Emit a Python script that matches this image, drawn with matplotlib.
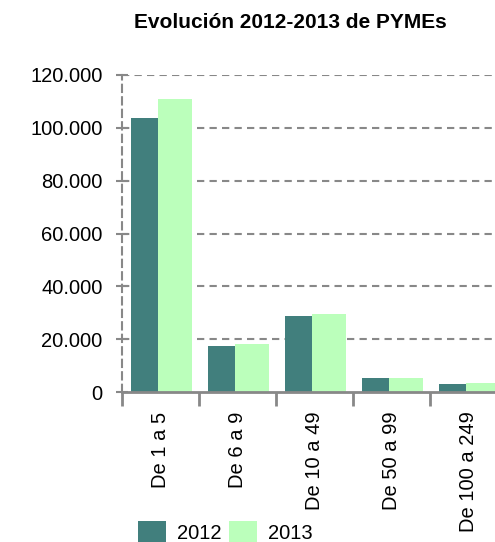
import matplotlib
matplotlib.use("Agg")
import matplotlib.pyplot as plt
import numpy as np

plt.rcParams["font.family"] = ["Liberation Sans", "DejaVu Sans"]

categories = ["De 1 a 5", "De 6 a 9", "De 10 a 49", "De 50 a 99", "De 100 a 249"]
years = ["2012", "2013"]
values_2012 = [103600, 17400, 28800, 5300, 3000]
values_2013 = [111100, 18200, 29500, 5300, 3400]

C2012 = "#417f7d"
C2013 = "#bbffbb"
GRID = "#888888"

W, H = 495, 542
fig = plt.figure(figsize=(W / 100, H / 100), dpi=100)
ax = fig.add_axes([122 / W, 150 / H, 385 / W, 317 / H])

x = np.arange(len(categories))
ax.bar(x - 0.383, values_2012, width=0.357, align="edge", color=C2012, label=years[0], zorder=3)
ax.bar(x - 0.026, values_2013, width=0.429, align="edge", color=C2013, label=years[1], zorder=3)

ax.set_xlim(-0.5, len(categories) - 0.5)
ax.set_ylim(0, 120000)

# dashed horizontal grid, dashed y axis, solid x axis
ax.set_yticks(np.arange(0, 120001, 20000))
ax.set_yticklabels([f"{v:,}".replace(",", ".") for v in range(0, 120001, 20000)])
for v in range(20000, 120001, 20000):
    ax.axhline(v, color=GRID, lw=1.5, ls=(0, (3.5, 2.5)), zorder=1)
for s in ["top", "right"]:
    ax.spines[s].set_visible(False)
ax.spines["left"].set_color(GRID)
ax.spines["left"].set_linewidth(1.5)
ax.spines["left"].set_linestyle((0, (3.5, 2.5)))
ax.spines["bottom"].set_color(GRID)
ax.spines["bottom"].set_linewidth(2)
ax.spines["bottom"].set_zorder(4)

ax.tick_params(axis="y", direction="inout", length=8, width=1.5, color=GRID,
               labelsize=14.5, pad=10)
ax.set_xticks(np.arange(-0.5, len(categories), 1.0))
ax.set_xticklabels([])
ax.tick_params(axis="x", which="major", direction="out", length=10, width=2, color=GRID)
ax.set_xticks(x, minor=True)
ax.set_xticklabels(categories, minor=True, rotation=90, ha="center", va="top")
ax.tick_params(axis="x", which="minor", length=0, labelsize=14.5, pad=14)

fig.text(290 / W, 1 - 23 / H, "Evolución 2012-2013 de PYMEs", ha="center", va="center",
         fontsize=15, weight="bold")

fig.legend(loc="lower left", bbox_to_anchor=(130 / W, -10 / H), ncol=2, frameon=False,
           fontsize=14.5, handlelength=1.4, handleheight=1.4, handletextpad=0.55,
           columnspacing=0.35, borderaxespad=0)

fig.savefig("out.png", dpi=100, facecolor="white")
